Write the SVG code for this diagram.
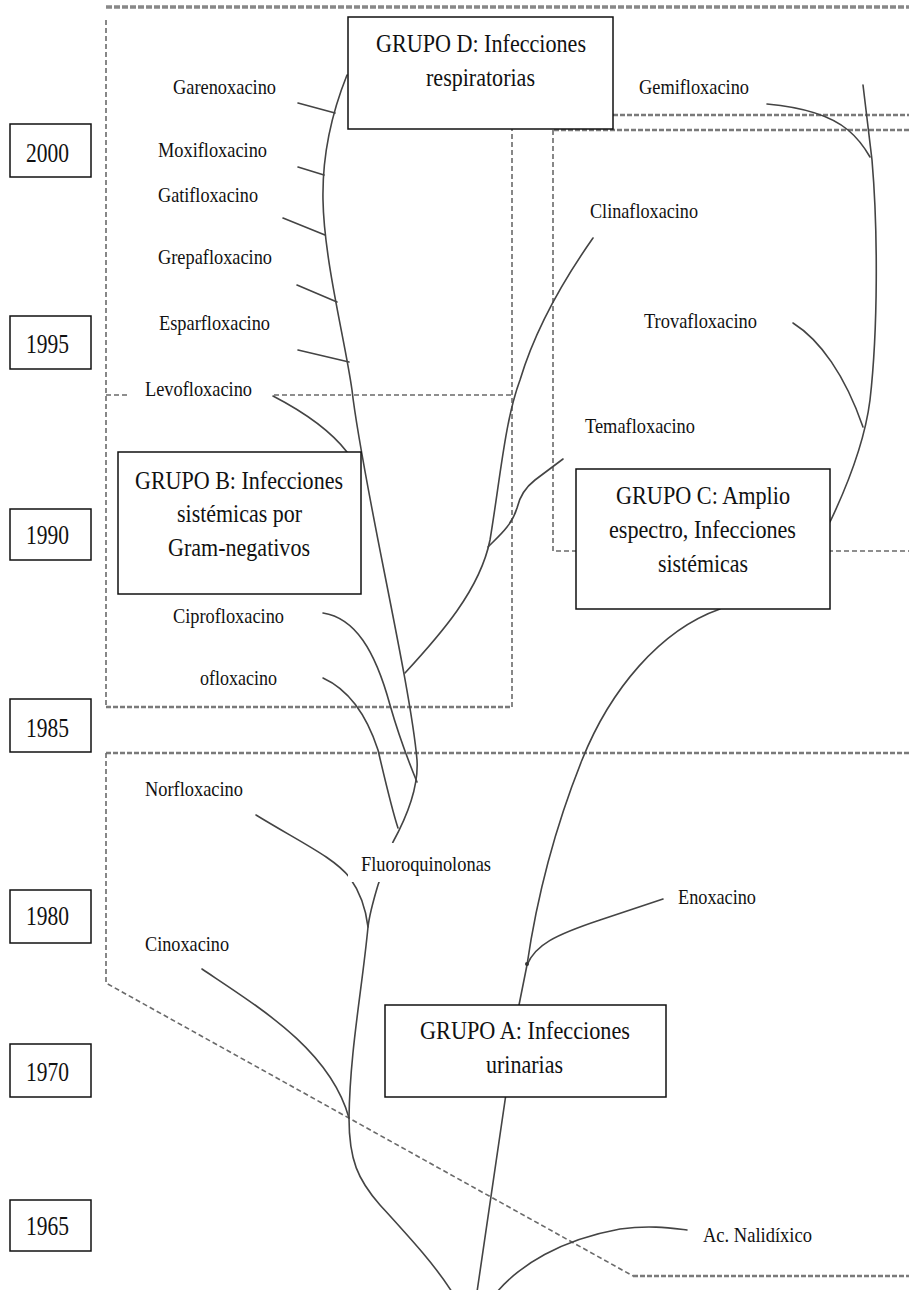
<svg xmlns="http://www.w3.org/2000/svg" width="909" height="1290" viewBox="0 0 909 1290">
<style>
text{font-family:"Liberation Serif","Times New Roman",serif;fill:#111}
.lbl{font-size:22px}
.grp{font-size:26px}
.yr{font-size:27px}
.box{fill:#fff;stroke:#111;stroke-width:1.5}
.bg{fill:#fff;stroke:none}
.dash{fill:none;stroke:#6a6a6a;stroke-width:1.6;stroke-dasharray:5 3}
.dash2{fill:none;stroke:#7a7a7a;stroke-width:2.6;stroke-dasharray:5 2}
.dash3{fill:none;stroke:#888;stroke-width:3.6;stroke-dasharray:6 2}
.con{fill:none;stroke:#444;stroke-width:1.6;stroke-linecap:round;stroke-linejoin:round}
</style>
<rect width="909" height="1290" fill="#fff"/>

<g id="regions">
<path class="dash3" d="M106,7 H909"/>
<path class="dash" d="M106,20 V707"/>
<path class="dash2" d="M106,707 H512"/>
<path class="dash" d="M512,707 V129"/>
<path class="dash" d="M106,395 H512"/>
<path class="dash2" d="M613,115 H909"/>
<path class="dash2" d="M909,130 H553"/>
<path class="dash" d="M553,130 V551 H909"/>
<path class="dash2" d="M909,753 H106"/>
<path class="dash" d="M106,753 V983 L633,1276"/>
<path class="dash2" d="M633,1276 H909"/>
</g>

<g id="connectors">
<path class="con" d="M347,75 C335,105 322,150 323,200 C324,260 345,340 352,390 C362,480 410,680 417,760 C419,790 405,820 393,842 L378,885 C372,905 369,918 368,927 C362,990 350,1050 349,1118 C349,1160 358,1180 380,1205 C410,1238 435,1265 452,1292"/>
<path class="con" d="M298,103 L335,113"/>
<path class="con" d="M298,167 L324,175"/>
<path class="con" d="M283,218 L325,235"/>
<path class="con" d="M297,285 L337,302"/>
<path class="con" d="M298,350 L349,362"/>
<path class="con" d="M273,396 C300,410 330,430 347,452"/>
<path class="con" d="M323,613 C355,618 375,650 390,705 C400,740 410,765 417,782"/>
<path class="con" d="M323,678 C345,688 365,710 378,750 C385,780 392,810 398,828"/>
<path class="con" d="M405,673 C440,635 480,590 490,540 C500,480 505,420 520,380 C535,330 560,285 593,238"/>
<path class="con" d="M488,547 C500,535 512,525 517,508 C520,495 526,487 535,480 L563,459"/>
<path class="con" d="M256,815 C300,842 335,858 350,878 C360,892 366,910 368,927"/>
<path class="con" d="M202,969 C260,1008 330,1050 349,1118"/>
<path class="con" d="M477,1292 L519,1005 C523,985 525,975 527,965 C535,910 550,840 582,760 C610,690 660,630 720,609"/>
<path class="con" d="M527,965 C535,945 555,935 600,920 L663,899"/>
<circle cx="527" cy="964" r="2" fill="#333"/>
<path class="con" d="M497,1292 C520,1265 560,1240 620,1229 C650,1225 670,1228 687,1230"/>
<path class="con" d="M830,522 C850,480 865,440 870,400 C878,330 878,230 872,160 L863,85"/>
<path class="con" d="M767,104 C800,107 830,115 848,130 C860,140 866,150 870,157"/>
<path class="con" d="M793,323 C820,340 845,375 863,427"/>
</g>

<g id="years">
<g id="y2000"><rect class="box" x="10" y="124" width="81" height="53"/><text class="yr" x="26" y="162" textLength="43" lengthAdjust="spacingAndGlyphs">2000</text></g>
<g id="y1995"><rect class="box" x="10" y="316" width="81" height="53"/><text class="yr" x="26" y="353" textLength="43" lengthAdjust="spacingAndGlyphs">1995</text></g>
<g id="y1990"><rect class="box" x="10" y="509" width="81" height="51"/><text class="yr" x="26" y="544" textLength="43" lengthAdjust="spacingAndGlyphs">1990</text></g>
<g id="y1985"><rect class="box" x="10" y="699" width="81" height="53"/><text class="yr" x="26" y="737" textLength="43" lengthAdjust="spacingAndGlyphs">1985</text></g>
<g id="y1980"><rect class="box" x="10" y="890" width="81" height="53"/><text class="yr" x="26" y="925" textLength="43" lengthAdjust="spacingAndGlyphs">1980</text></g>
<g id="y1970"><rect class="box" x="10" y="1044" width="81" height="53"/><text class="yr" x="26" y="1081" textLength="43" lengthAdjust="spacingAndGlyphs">1970</text></g>
<g id="y1965"><rect class="box" x="10" y="1200" width="81" height="51"/><text class="yr" x="26" y="1235" textLength="43" lengthAdjust="spacingAndGlyphs">1965</text></g>
</g>

<g id="labels">
<g id="garenoxacino"><text class="lbl" x="173" y="94" textLength="103" lengthAdjust="spacingAndGlyphs">Garenoxacino</text></g>
<g id="moxifloxacino"><text class="lbl" x="158" y="157" textLength="109" lengthAdjust="spacingAndGlyphs">Moxifloxacino</text></g>
<g id="gatifloxacino"><text class="lbl" x="158" y="202" textLength="100" lengthAdjust="spacingAndGlyphs">Gatifloxacino</text></g>
<g id="grepafloxacino"><text class="lbl" x="158" y="264" textLength="114" lengthAdjust="spacingAndGlyphs">Grepafloxacino</text></g>
<g id="esparfloxacino"><text class="lbl" x="159" y="330" textLength="111" lengthAdjust="spacingAndGlyphs">Esparfloxacino</text></g>
<g id="levofloxacino"><rect class="bg" x="128" y="378" width="144" height="26"/><text class="lbl" x="145" y="396" textLength="107" lengthAdjust="spacingAndGlyphs">Levofloxacino</text></g>
<g id="ciprofloxacino"><text class="lbl" x="173" y="623" textLength="111" lengthAdjust="spacingAndGlyphs">Ciprofloxacino</text></g>
<g id="ofloxacino"><text class="lbl" x="200" y="685" textLength="77" lengthAdjust="spacingAndGlyphs">ofloxacino</text></g>
<g id="norfloxacino"><text class="lbl" x="145" y="796" textLength="98" lengthAdjust="spacingAndGlyphs">Norfloxacino</text></g>
<g id="fluoroquinolonas"><rect class="bg" x="348" y="843" width="152" height="39"/><text class="lbl" x="361" y="871" textLength="130" lengthAdjust="spacingAndGlyphs">Fluoroquinolonas</text></g>
<g id="cinoxacino"><text class="lbl" x="145" y="951" textLength="84" lengthAdjust="spacingAndGlyphs">Cinoxacino</text></g>
<g id="enoxacino"><text class="lbl" x="678" y="904" textLength="78" lengthAdjust="spacingAndGlyphs">Enoxacino</text></g>
<g id="nalidixico"><text class="lbl" x="703" y="1242" textLength="109" lengthAdjust="spacingAndGlyphs">Ac. Nalidíxico</text></g>
<g id="gemifloxacino"><text class="lbl" x="639" y="94" textLength="110" lengthAdjust="spacingAndGlyphs">Gemifloxacino</text></g>
<g id="clinafloxacino"><text class="lbl" x="590" y="218" textLength="108" lengthAdjust="spacingAndGlyphs">Clinafloxacino</text></g>
<g id="trovafloxacino"><text class="lbl" x="644" y="328" textLength="113" lengthAdjust="spacingAndGlyphs">Trovafloxacino</text></g>
<g id="temafloxacino"><text class="lbl" x="585" y="433" textLength="110" lengthAdjust="spacingAndGlyphs">Temafloxacino</text></g>
</g>

<g id="groups">
<g id="grupoD"><rect class="box" x="348" y="17" width="265" height="112"/>
<text class="grp" x="376" y="52" textLength="210" lengthAdjust="spacingAndGlyphs">GRUPO D: Infecciones</text>
<text class="grp" x="426" y="86" textLength="109" lengthAdjust="spacingAndGlyphs">respiratorias</text></g>
<g id="grupoB"><rect class="box" x="118" y="452" width="243" height="142"/>
<text class="grp" x="135" y="489" textLength="208" lengthAdjust="spacingAndGlyphs">GRUPO B: Infecciones</text>
<text class="grp" x="177" y="522" textLength="125" lengthAdjust="spacingAndGlyphs">sistémicas por</text>
<text class="grp" x="168" y="556" textLength="142" lengthAdjust="spacingAndGlyphs">Gram-negativos</text></g>
<g id="grupoC"><rect class="box" x="576" y="469" width="254" height="140"/>
<text class="grp" x="616" y="504" textLength="174" lengthAdjust="spacingAndGlyphs">GRUPO C: Amplio</text>
<text class="grp" x="609" y="538" textLength="187" lengthAdjust="spacingAndGlyphs">espectro, Infecciones</text>
<text class="grp" x="658" y="572" textLength="90" lengthAdjust="spacingAndGlyphs">sistémicas</text></g>
<g id="grupoA"><rect class="box" x="385" y="1005" width="281" height="92"/>
<text class="grp" x="420" y="1039" textLength="210" lengthAdjust="spacingAndGlyphs">GRUPO A: Infecciones</text>
<text class="grp" x="486" y="1073" textLength="77" lengthAdjust="spacingAndGlyphs">urinarias</text></g>
</g>
</svg>
